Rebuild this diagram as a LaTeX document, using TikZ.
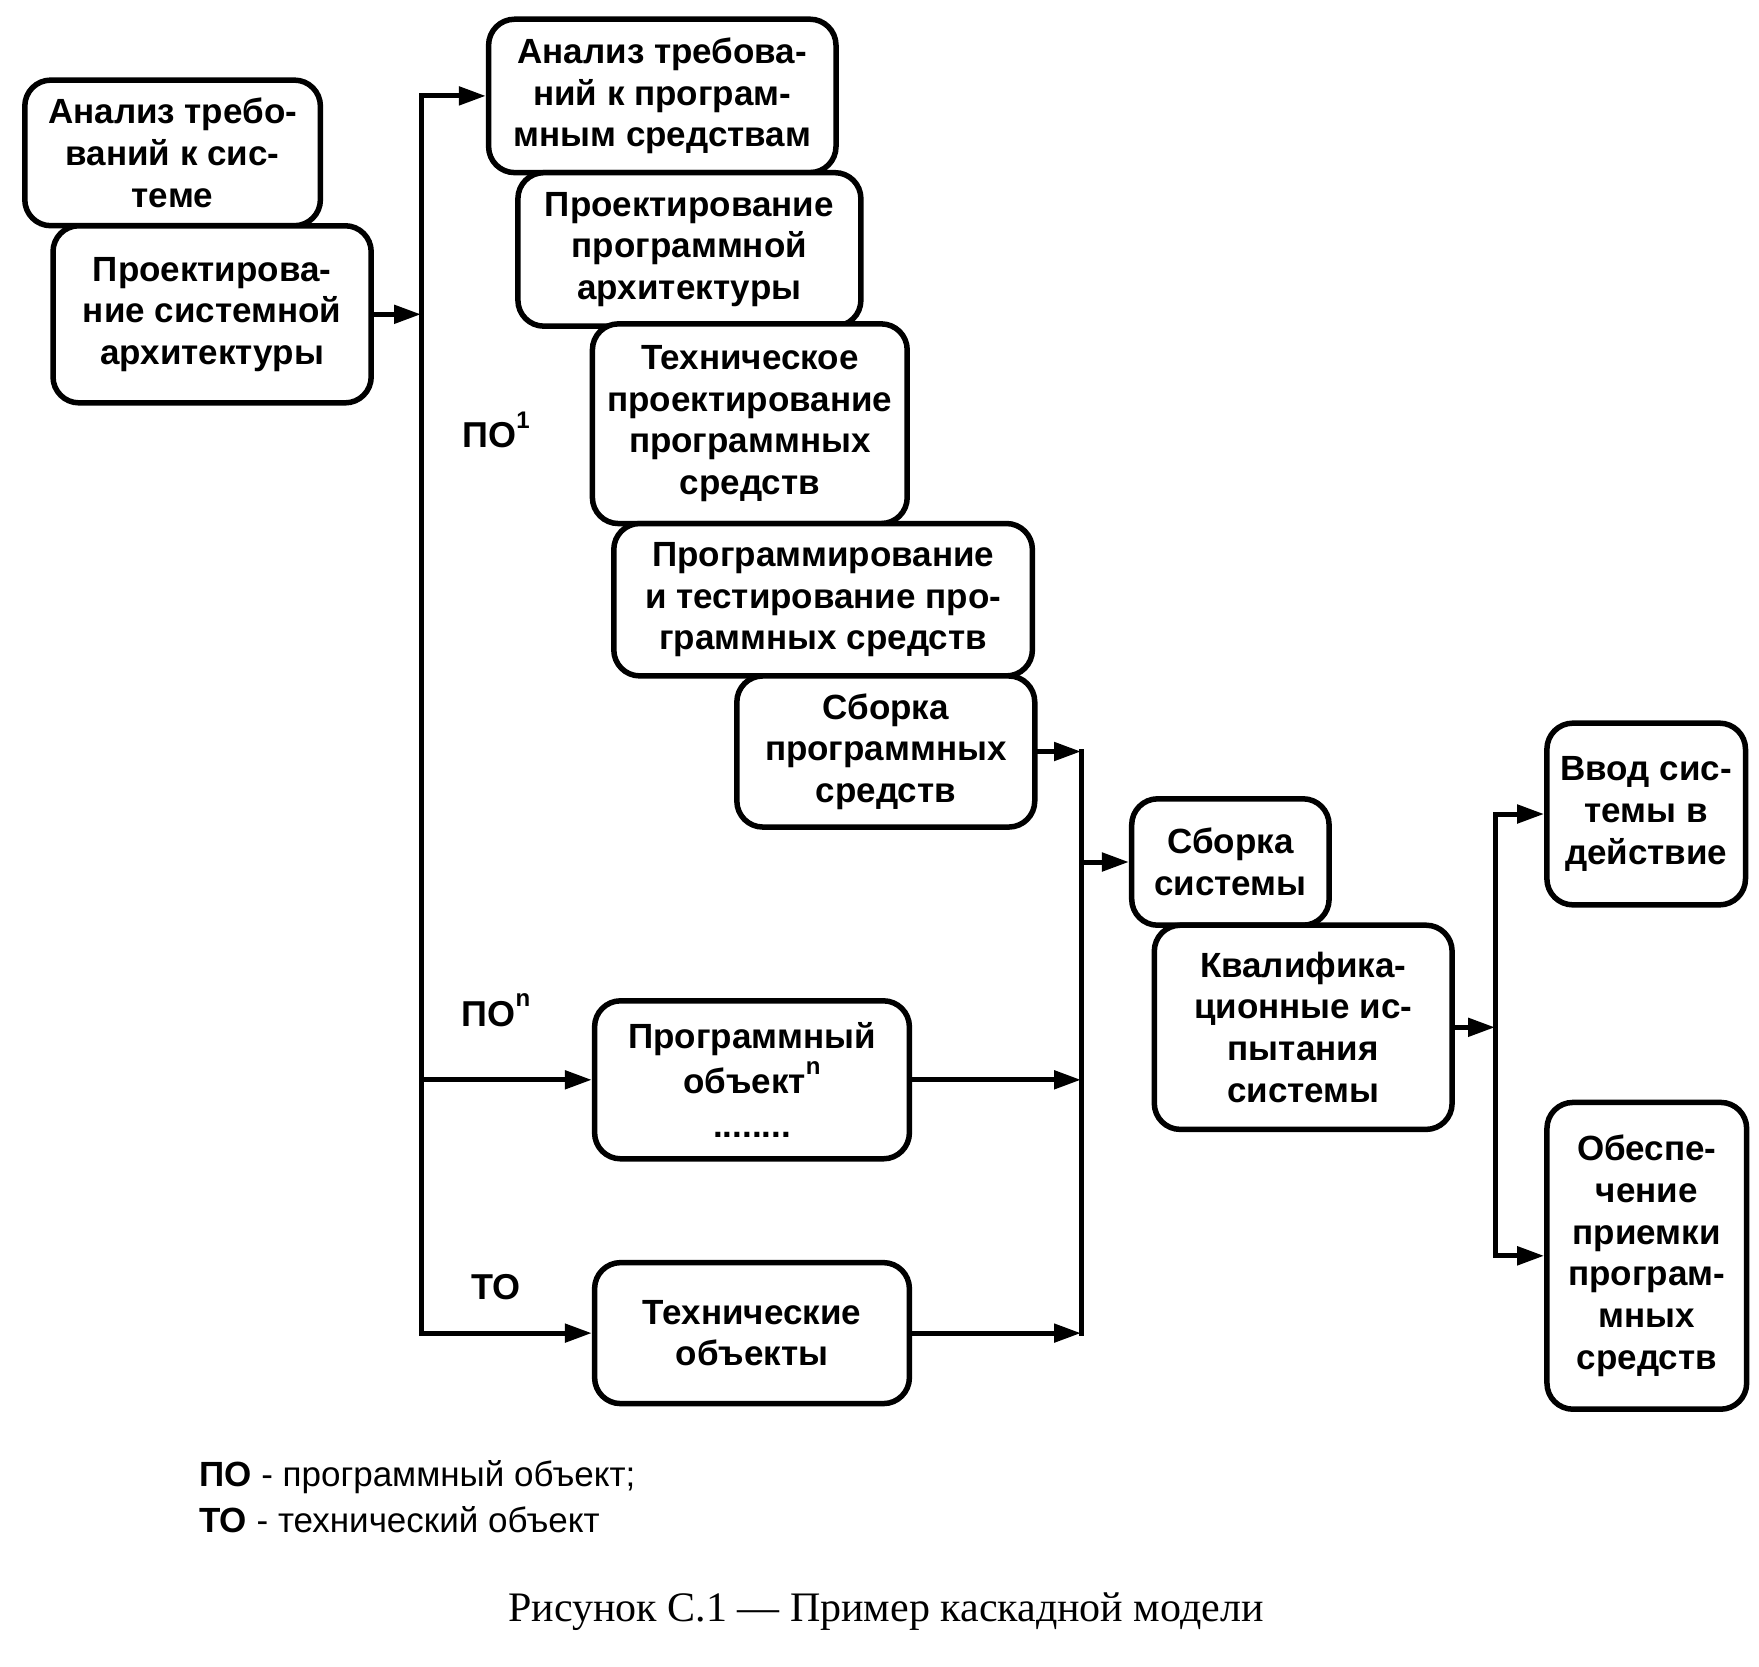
\documentclass[tikz,border=0pt]{standalone}
\usepackage{fontspec}
\setmainfont{Liberation Sans}
\newfontfamily\serifcap{Liberation Serif}
\usetikzlibrary{arrows.meta}
\newcommand{\mysup}[1]{\raisebox{0.55em}{\fontsize{24}{24}\selectfont #1}}
\begin{document}
\begin{tikzpicture}[x=1pt,y=-1pt,
  box/.style={draw, line width=5.5pt, rounded corners=26pt, fill=white, align=center,
    font=\fontsize{35}{41.7}\selectfont\bfseries, inner sep=0pt},
  ln/.style={line width=5pt, line cap=rect},
  conn/.style={line width=5pt, line cap=rect, -{Triangle[length=27pt,width=18pt]}},
  lbl/.style={font=\fontsize{36}{42}\selectfont\bfseries, inner sep=0pt},
  leg/.style={font=\fontsize{35}{42}\selectfont, anchor=west, inner sep=0pt},
  capt/.style={font=\serifcap\fontsize{42}{50}\selectfont, inner sep=0pt}]
\useasboundingbox[fill=white] (0,0) rectangle (1759,1666);

\node[box, minimum width=295.6pt, minimum height=145.6pt] (b1) at (172.6,152.9)
  {Анализ требо-\\ваний к сис-\\теме};
\node[box, minimum width=318.2pt, minimum height=177.1pt] (b2) at (212.1,314.3)
  {Проектирова-\\ние системной\\архитектуры};
\node[box, minimum width=347.4pt, minimum height=153.4pt] (b3) at (662.3,95.9)
  {Анализ требова-\\ний к програм-\\мным средствам};
\node[box, minimum width=343pt, minimum height=153.5pt] (b4) at (689.4,249.4)
  {Проектирование\\программной\\архитектуры};
\node[box, minimum width=314.8pt, minimum height=199.7pt] (b5) at (749.8,423.7)
  {Техническое\\проектирование\\программных\\средств};
\node[box, minimum width=418.6pt, minimum height=152.4pt] (b6) at (823.1,599.7)
  {Программирование\\и тестирование про-\\граммных средств};
\node[box, minimum width=297.9pt, minimum height=151.1pt] (b7) at (885.8,751.5)
  {Сборка\\программных\\средств};
\node[box, minimum width=197.4pt, minimum height=126.4pt] (b8) at (1230.4,862)
  {Сборка\\системы};
\node[box, minimum width=297.8pt, minimum height=204.2pt] (b9) at (1303.2,1027.3)
  {Квалифика-\\ционные ис-\\пытания\\системы};
\node[box, minimum width=198.6pt, minimum height=181.7pt] (b10) at (1646.2,814)
  {Ввод сис-\\темы в\\действие};
\node[box, minimum width=199.7pt, minimum height=306.8pt] (b11) at (1646.8,1255.8)
  {Обеспе-\\чение\\приемки\\програм-\\мных\\средств};
\node[box, minimum width=314.8pt, minimum height=158pt] (b12) at (752,1079.8)
  {Программный\\[4pt]объект\mysup{n}\\[2pt]........};
\node[box, minimum width=314.8pt, minimum height=141pt] (b13) at (752,1333.1)
  {Технические\\объекты};

\coordinate (t1) at (421,0);
\coordinate (t2) at (1081,0);
\coordinate (t3) at (1495,0);

% left trunk
\draw[ln] (t1 |- b3.west) -- (t1 |- b13.west);
\draw[conn] (b2.east) -- (b2.east -| t1);
\draw[conn] (t1 |- b3.west) -- (b3.west);
\draw[conn] (t1 |- b12.west) -- (b12.west);
\draw[conn] (t1 |- b13.west) -- (b13.west);

% middle trunk
\draw[ln] (t2 |- b7.east) -- (t2 |- b13.east);
\draw[conn] (b7.east) -- (b7.east -| t2);
\draw[conn] (b12.east) -- (b12.east -| t2);
\draw[conn] (b13.east) -- (b13.east -| t2);
\draw[conn] (t2 |- b8.west) -- (b8.west);

% right trunk
\draw[ln] (t3 |- b10.west) -- (t3 |- b11.west);
\draw[conn] (b9.east) -- (b9.east -| t3);
\draw[conn] (t3 |- b10.west) -- (b10.west);
\draw[conn] (t3 |- b11.west) -- (b11.west);

% labels
\node[lbl] (l1) at (496,430) {ПО\mysup{1}};
\node[lbl] (l2) at (496,1010) {ПО\mysup{n}};
\node[lbl] (l3) at (496,1287) {ТО};

% legend
\node[leg] (g1) at (199,1477) {\textbf{ПО} - программный объект;};
\node[leg] (g2) at (199,1520) {\textbf{ТО} - технический объект};

% caption
\node[capt] (cap) at (886,1612) {Рисунок С.1 — Пример каскадной модели};
\end{tikzpicture}
\end{document}
